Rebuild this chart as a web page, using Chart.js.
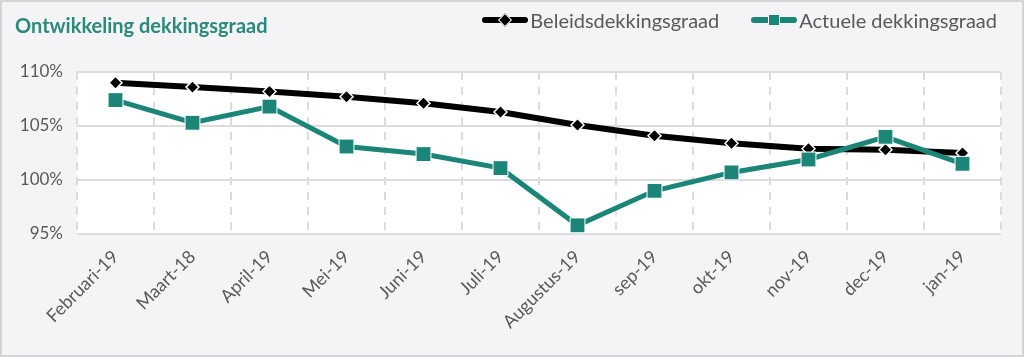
<!DOCTYPE html>
<html>
<head>
<meta charset="utf-8">
<script src="https://cdn.jsdelivr.net/npm/chart.js@4.4.1/dist/chart.umd.min.js"></script>
<style>
  html, body { margin:0; padding:0; background:#ffffff; }
  #wrap { position:relative; width:1024px; height:357px; background:#f4f4f6; box-sizing:border-box; border:2px solid #d4d4d4; overflow:hidden; }
  #title { position:absolute; left:13px; top:11px; font-family:Lato, sans-serif; font-weight:700; font-size:20px; color:#2a8a7c; }
  #legend { position:absolute; right:25px; top:6px; font-family:Lato, sans-serif; font-size:20px; color:#595959; display:flex; align-items:center; }
  .li { display:flex; align-items:center; margin-left:32px; }
  .sym { position:relative; width:46px; height:20px; margin-right:2px; }
  .sym .ln { position:absolute; left:0; right:0; top:7px; height:6px; border-radius:3px; }
  .sym .mk { position:absolute; left:50%; top:50%; }
  canvas { position:absolute; left:0; top:0; }
</style>
</head>
<body>
<div id="wrap">
  <canvas id="c" width="1020" height="353"></canvas>
  <div id="title">Ontwikkeling dekkingsgraad</div>
  <div id="legend">
    <div class="li"><div class="sym"><div class="ln" style="background:#000"></div><div class="mk" style="width:8px;height:8px;background:#000;border:1px solid #fff;transform:translate(-50%,-50%) rotate(45deg);"></div></div>Beleidsdekkingsgraad</div>
    <div class="li"><div class="sym"><div class="ln" style="background:#1b8677"></div><div class="mk" style="width:10px;height:10px;background:#1b8677;border:1px solid #fff;transform:translate(-50%,-50%);"></div></div>Actuele dekkingsgraad</div>
  </div>
</div>
<script>
const categories = ['Februari-19','Maart-18','April-19','Mei-19','Juni-19','Juli-19','Augustus-19','sep-19','okt-19','nov-19','dec-19','jan-19'];
const beleidsdekkingsgraad = [109.0, 108.6, 108.2, 107.7, 107.1, 106.3, 105.1, 104.1, 103.4, 102.9, 102.8, 102.5];
const actueleDekkingsgraad = [107.4, 105.3, 106.8, 103.1, 102.4, 101.1, 95.8, 99.0, 100.7, 101.9, 104.0, 101.5];
const yTicks = [95, 100, 105, 110];

const plotBg = {
  id: 'plotBg',
  beforeDraw(chart) {
    const {ctx, chartArea: a} = chart;
    ctx.save();
    ctx.fillStyle = '#ffffff';
    ctx.fillRect(a.left, a.top, a.right - a.left, a.bottom - a.top);
    ctx.restore();
  }
};

new Chart(document.getElementById('c'), {
  type: 'line',
  data: {
    labels: categories,
    datasets: [
      {
        label: 'Beleidsdekkingsgraad',
        data: beleidsdekkingsgraad,
        borderColor: '#000000',
        backgroundColor: '#000000',
        borderWidth: 6,
        pointStyle: 'rectRot',
        pointRadius: 6.5,
        pointBorderColor: '#ffffff',
        pointBorderWidth: 1.5,
        pointBackgroundColor: '#000000',
        tension: 0,
        order: 2
      },
      {
        label: 'Actuele dekkingsgraad',
        data: actueleDekkingsgraad,
        borderColor: '#1b8677',
        backgroundColor: '#1b8677',
        borderWidth: 5,
        pointStyle: 'rect',
        pointRadius: 10.5,
        pointBorderColor: '#ffffff',
        pointBorderWidth: 1,
        pointBackgroundColor: '#1b8677',
        tension: 0,
        order: 1
      }
    ]
  },
  options: {
    responsive: false,
    animation: false,
    devicePixelRatio: 1,
    layout: { padding: { top: 70, right: 21, bottom: 10, left: 0 } },
    plugins: { legend: { display: false }, title: { display: false }, tooltip: { enabled: false } },
    scales: {
      x: {
        offset: true,
        grid: { offset: true, color: '#dcdcdc', lineWidth: 2, drawTicks: false },
        border: { display: false, dash: [8, 7] },
        ticks: { minRotation: 45, maxRotation: 45, autoSkip: false, color: '#595959', padding: 12, font: { family: 'Lato', size: 18 } },
        afterFit(s) { s.height = 353 - 232 - 10; }
      },
      y: {
        min: 95, max: 110,
        afterBuildTicks(s) { s.ticks = yTicks.map(v => ({ value: v })); },
        grid: { color: '#dcdcdc', lineWidth: 2, drawTicks: false },
        border: { display: false },
        ticks: { color: '#595959', padding: 14, font: { family: 'Lato', size: 17 }, callback: v => v + '%' },
        afterFit(s) { s.width = 75; }
      }
    }
  },
  plugins: [plotBg]
});
</script>
</body>
</html>
